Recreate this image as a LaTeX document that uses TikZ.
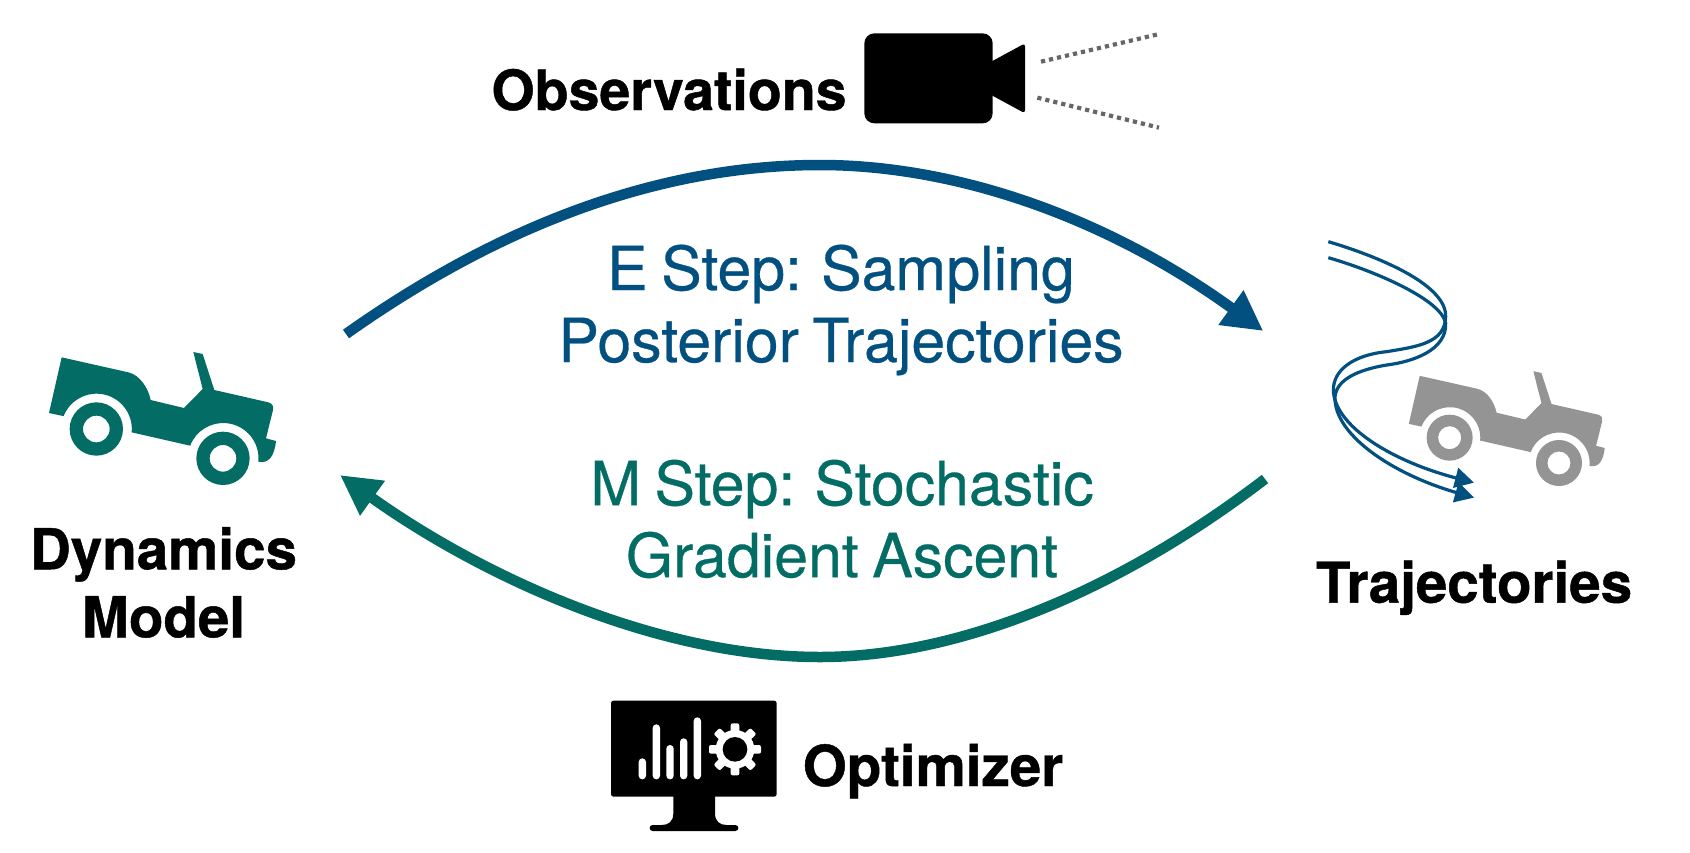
\documentclass[tikz,border=0pt]{standalone}
\usepackage{fontspec}
\setmainfont[WordSpace=0.8,FakeBold=0.5,BoldFeatures={FakeBold=0.8}]{TeX Gyre Heros}
\usetikzlibrary{arrows.meta,calc}
\definecolor{eblue}{HTML}{02507F}
\definecolor{mgreen}{HTML}{026C65}
\definecolor{jeepgrey}{HTML}{949494}
\definecolor{dotgrey}{HTML}{666666}
\newcommand{\jeepshape}[1]{%
  \fill[#1] (185,112) -- (385,157) .. controls (420,165) and (445,205) .. (452,240)
    -- (552,264) -- (608,207) -- (580,96) -- (608,102) -- (643,210) -- (805,247)
    .. controls (817,250) and (822,260) .. (819,270) -- (798,355) -- (828,363)
    .. controls (823,410) and (805,432) .. (775,425)
    arc[start angle=5.4,end angle=-159,radius=106]
    -- (395,337) arc[start angle=5.4,end angle=-158.6,radius=106]
    -- (147,279) -- cycle;
  \fill[#1,even odd rule] (289,327) circle[radius=80] (289,327) circle[radius=40];
  \fill[#1,even odd rule] (669,415) circle[radius=80] (669,415) circle[radius=40];
}
\tikzset{
  boldlabel/.style={font=\bfseries\fontsize{56.5}{68}\selectfont,text=black,inner sep=0pt,align=center},
  steplabel/.style={font=\fontsize{60.8}{72}\selectfont,inner sep=0pt,align=center},
  mainarrow/.style={line width=10.5pt,-{Triangle[length=40pt,width=40pt]}},
  trajline/.style={draw=eblue,line width=3.2pt,-{Triangle[length=19pt,width=20pt]}},
  fov/.style={draw=dotgrey,line width=4.2pt,dash pattern=on 4.2pt off 4pt},
}
\begin{document}
\begin{tikzpicture}[x=1pt,y=-1pt]
\useasboundingbox (0,0) rectangle (1690,852);
% jeeps
\begin{scope}[shift={(0,320)},scale=1/3]
  \jeepshape{mgreen}
\end{scope}
\begin{scope}[shift={(1366.5,343.6)},scale=0.2877]
  \jeepshape{jeepgrey}
\end{scope}
% coordinates
\coordinate (estart) at (346,334);
\coordinate (etop) at (820,165);
\coordinate (eend) at (1263.3,331);
\coordinate (mstart) at (1265,479);
\coordinate (mlow) at (820,657);
\coordinate (mend) at (340,475);
\draw[mainarrow,draw=eblue] (estart) .. controls (490,232) and (650,165) .. (etop)
   .. controls (960,165) and (1110,220) .. (eend);
\draw[mainarrow,draw=mgreen] (mstart) .. controls (1120,590) and (960,657) .. (mlow)
   .. controls (655,657) and (480,575) .. (mend);
% step labels
\node[steplabel,text=eblue,anchor=center] (estep) at (841,310) {E Step: Sampling\\Posterior Trajectories};
\node[steplabel,text=mgreen,anchor=center] (mstep) at (842,519) {M Step: Stochastic\\Gradient Ascent};
% bold labels
\node[boldlabel,anchor=base,font=\bfseries\fontsize{55.5}{68}\selectfont] (obs) at (669,110) {Observations};
\node[boldlabel,anchor=center] (dyn) at (163.5,582.5) {Dynamics\\Model};
\node[boldlabel,anchor=base] (traj) at (1474,602.7) {Trajectories};
\node[boldlabel,anchor=base] (optim) at (933,786) {Optimizer};
% trajectories
\begin{scope}[shift={(1300,220)},scale=1/3]
  \coordinate (ta) at (85,65);
  \coordinate (tb) at (85,113);
  \coordinate (tae) at (522,788);
  \coordinate (tbe) at (522,833);
  \draw[trajline] (ta) .. controls (220,105) and (440,190) .. (437,290)
     .. controls (435,370) and (350,380) .. (260,395)
     .. controls (160,405) and (100,450) .. (100,510)
     .. controls (103,620) and (280,725) .. (tae);
  \draw[trajline] (tb) .. controls (230,155) and (425,240) .. (437,310)
     .. controls (440,390) and (340,425) .. (260,435)
     .. controls (170,450) and (110,480) .. (105,530)
     .. controls (100,640) and (270,760) .. (tbe);
\end{scope}
% camera
\begin{scope}[shift={(840,10)},scale=1/3]
  \fill[black,rounded corners=10pt] (73,70) rectangle (458,340);
  \fill[black,rounded corners=3pt] (450,157) -- (555,100) -- (555,310) -- (450,253) -- cycle;
  \coordinate (c1) at (603,155);
  \coordinate (c1e) at (962,71);
  \coordinate (c2) at (592,263);
  \coordinate (c2e) at (957,353);
\end{scope}
\draw[fov] (c1) -- (c1e);
\draw[fov] (c2) -- (c2e);
% optimizer monitor
\begin{scope}[shift={(600,690)},scale=1/3]
  \fill[black,rounded corners=2.5pt] (33,32) rectangle (530,320);
  \fill[black] (220,315) -- (220,370) .. controls (220,395) and (205,405) .. (185,405)
     -- (158,405) .. controls (146,405) and (146,423) .. (158,423) -- (406,423)
     .. controls (418,423) and (418,405) .. (406,405) -- (380,405)
     .. controls (360,405) and (345,395) .. (345,370) -- (345,315) -- cycle;
  \foreach \bx/\by in {127/205,169/103,210/165,251/145,292/82}{
    \fill[white,rounded corners=3.6pt] (\bx-11,\by) rectangle (\bx+11,268);
  }
  \fill[white] (405,178) circle[radius=58];
  \foreach \ang in {0,45,...,315}{
    \fill[white,rounded corners=2pt,rotate around={\ang:(405,178)}] (392,100) rectangle (418,140);
  }
  \fill[black] (405,178) circle[radius=37];
\end{scope}
\end{tikzpicture}
\end{document}
